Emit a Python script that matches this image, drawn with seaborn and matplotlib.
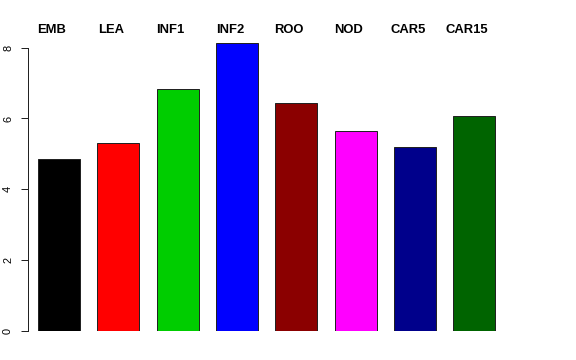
import numpy as np
import pandas as pd
import seaborn as sns
import matplotlib.pyplot as plt

# data
tissues = ['EMB', 'LEA', 'INF1', 'INF2', 'ROO', 'NOD', 'CAR5', 'CAR15']
values = [4.86, 5.31, 6.84, 8.14, 6.45, 5.64, 5.20, 6.07]
colors = ['#000000', '#FF0000', '#00CD00', '#0000FF', '#8B0000', '#FF00FF', '#00008B', '#006400']
yticks = [0, 2, 4, 6, 8]

df = pd.DataFrame({'tissue': tissues, 'value': values})

sns.set_style('white')
plt.rcParams['font.family'] = ['Liberation Sans', 'DejaVu Sans']

fig = plt.figure(figsize=(8, 5), dpi=72)
ax = fig.add_axes([28 / 576, 29 / 360, 492 / 576, 294 / 360])

sns.barplot(data=df, x='tissue', y='value', hue='tissue', palette=colors,
            saturation=1, width=0.71, edgecolor='#222222', linewidth=1,
            legend=False, ax=ax)

# R-like axes: only a left axis spanning the tick range
ax.set_xlim(-0.523, 7.77)
ax.set_ylim(0, 8.3)
for s in ['top', 'right', 'bottom']:
    ax.spines[s].set_visible(False)
ax.spines['left'].set_bounds(0, 8)
ax.spines['left'].set_color('#222222')
ax.spines['left'].set_linewidth(1)
ax.set_xticks([])
ax.set_yticks(yticks)
ax.set_yticklabels([str(t) for t in yticks], rotation=90, va='center', fontsize=11)
ax.tick_params(axis='y', length=7, width=1, pad=8, left=True,
               color='#222222', labelcolor='black')
ax.set_xlabel('')
ax.set_ylabel('')

# labels above the bars
for i, name in enumerate(tissues):
    ax.text(i - 0.12, 8.5, name, ha='center', va='center', fontsize=13,
            fontweight='bold', color='black', clip_on=False)

fig.savefig('out.png', dpi=72)
